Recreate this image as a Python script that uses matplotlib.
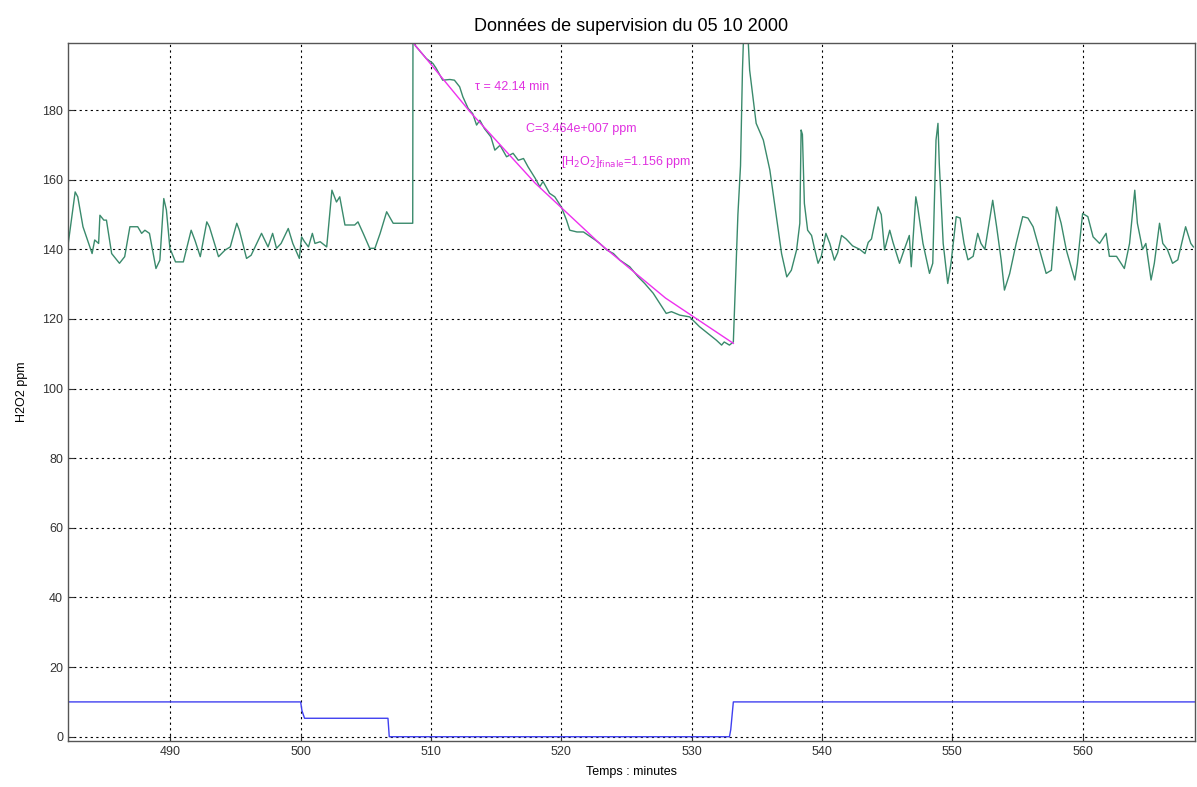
import matplotlib
matplotlib.use('Agg')
import matplotlib.pyplot as plt

plt.rcParams['font.family'] = ['Liberation Sans', 'DejaVu Sans']

t_h2o2 = [482.17, 482.7, 482.9, 483.3, 484.0, 484.2, 484.5, 484.6, 484.9, 485.1,
          485.5, 486.1, 486.5, 486.9, 487.5, 487.8, 488.05, 488.4, 488.9, 489.2,
          489.5, 489.7, 489.97, 490.4, 491.0, 491.6, 491.9, 492.3, 492.8, 493.0,
          493.7, 494.2, 494.6, 495.1, 495.3, 495.85, 496.2, 497.0, 497.5, 497.85,
          498.15, 498.5, 499.05, 499.4, 499.9, 500.07, 500.3, 500.6, 500.9, 501.1,
          501.5, 502.0, 502.4, 502.75, 503.0, 503.4, 504.15, 504.4, 504.8, 505.3,
          505.7, 506.1, 506.6, 507.1, 508.6, 508.62, 508.7,
          508.8, 509.1, 509.65, 510.15, 510.4, 510.9, 511.45, 511.8, 512.2, 512.45,
          512.85, 513.2, 513.5, 513.75, 514.1, 514.6, 514.9, 515.3, 515.8, 516.3,
          516.7, 517.1, 517.45, 518.0, 518.35, 518.6, 519.1, 519.5, 520.0, 520.4,
          520.65, 521.2, 521.7, 522.05, 522.6, 522.95, 523.5, 524.0, 524.5, 525.25,
          525.9, 526.4, 527.05, 527.55, 528.05, 528.45, 529.1, 529.85, 530.6, 531.4,
          531.9, 532.3, 532.5, 532.9, 533.2,
          533.55, 533.75, 533.9, 534.0, 534.3, 534.45, 534.95, 535.5, 536.0, 536.5,
          536.9, 537.3, 537.65, 538.05, 538.3, 538.4, 538.5, 538.65, 538.9, 539.2,
          539.4, 539.7, 539.95, 540.3, 540.6, 540.95, 541.2, 541.5, 541.85, 542.35,
          542.9, 543.3, 543.55, 543.8, 544.3, 544.55, 544.8, 545.2, 545.45, 545.95,
          546.3, 546.7, 546.85, 547.2, 547.35, 547.75, 548.25, 548.5, 548.75, 548.9,
          549.0, 549.3, 549.65, 549.9, 550.3, 550.6, 550.9, 551.2, 551.6, 551.95,
          552.2, 552.5, 553.1, 553.4, 553.75, 554.0, 554.4, 554.9, 555.4, 555.8,
          556.2, 556.7, 557.2, 557.6, 558.0, 558.35, 558.75, 559.4, 559.6, 560.0,
          560.4, 560.8, 561.3, 561.8, 562.05, 562.6, 563.2, 563.6, 564.0, 564.2,
          564.6, 564.85, 565.25, 565.5, 565.9, 566.15, 566.5, 566.9, 567.3, 567.9,
          568.3, 568.5]
c_h2o2 = [141.7, 156.5, 155.1, 146.5, 138.8, 142.7, 141.7, 149.8, 148.4, 148.4,
          138.8, 136.0, 137.9, 146.5, 146.5, 144.6, 145.5, 144.6, 134.5, 136.9,
          154.6, 151.3, 140.3, 136.4, 136.4, 145.5, 142.5, 137.9, 147.9, 146.5,
          137.9, 139.8, 140.7, 147.5, 145.5, 137.4, 138.3, 144.6, 140.7, 144.6,
          140.3, 141.7, 146.0, 141.7, 137.4, 143.6, 142.2, 140.7, 144.6, 141.7,
          142.2, 140.7, 157.0, 153.6, 155.1, 147.0, 147.0, 147.9, 144.6, 140.3,
          140.3, 144.6, 150.8, 147.5, 147.5, 203.0, 203.0,
          198.5, 197.2, 194.8, 193.4, 192.0, 188.6, 188.8, 188.6, 186.7, 183.8,
          180.5, 179.0, 175.7, 177.1, 174.7, 172.3, 168.5, 169.9, 166.6, 167.6,
          165.6, 166.1, 163.7, 160.4, 158.0, 159.5, 156.1, 155.1, 152.2, 148.4,
          145.5, 145.0, 145.0, 144.1, 142.7, 141.7, 139.8, 138.8, 136.9, 135.0,
          132.1, 130.2, 127.4, 124.5, 121.6, 122.1, 121.1, 120.6, 117.8, 115.4,
          113.9, 112.5, 113.4, 112.5, 113.4,
          150.0, 164.0, 191.5, 203.0, 203.0, 191.5, 176.2, 171.4, 162.8, 149.4,
          138.8, 132.1, 134.0, 139.8, 147.5, 174.3, 173.0, 153.2, 145.5, 144.0,
          140.7, 136.0, 138.0, 144.6, 141.7, 136.9, 139.0, 144.0, 143.0, 141.0,
          140.0, 138.8, 142.0, 143.0, 152.2, 150.0, 139.8, 145.5, 142.0, 136.0,
          139.8, 144.0, 135.0, 155.1, 152.0, 141.7, 133.1, 136.0, 171.4, 176.2,
          164.7, 141.7, 130.2, 136.0, 149.4, 149.0, 141.7, 137.0, 138.0, 144.6,
          141.7, 140.0, 154.1, 146.5, 136.9, 128.3, 133.0, 141.7, 149.4, 149.0,
          146.5, 139.8, 133.1, 134.0, 152.2, 147.5, 139.8, 131.2, 136.0, 150.3,
          149.4, 143.6, 141.7, 144.6, 138.0, 138.0, 134.5, 141.7, 157.0, 147.5,
          140.0, 141.7, 131.2, 136.0, 147.5, 141.7, 140.0, 136.0, 137.0, 146.5,
          141.7, 140.7]

# set point (blue step line)
t_set = [482.15, 500.0, 500.1, 500.3, 506.7, 506.8, 532.9, 533.0, 533.2, 568.6]
c_set = [10.0, 10.0, 7.5, 5.3, 5.3, 0.0, 0.0, 2.0, 10.0, 10.0]

# exponential fit of the decay
t_fit = [508.6, 513.0, 518.0, 523.0, 528.0, 533.2]
c_fit = [199.5, 179.5, 159.0, 141.5, 126.0, 113.0]

fit_labels = ['τ = 42.14 min',
              'C=3.464e+007 ppm',
              r'[H$_2$O$_2$]$_{\rm finale}$=1.156 ppm']
label_x = [513.4, 517.3, 520.0]
label_y = [186.7, 174.7, 165.2]

fig = plt.figure(figsize=(11.97, 7.87), dpi=100)
ax = fig.add_axes([0.0568, 0.0588, 0.9413, 0.8862])

ax.plot(t_set, c_set, color='#4040f0', linewidth=1.0)
ax.plot(t_h2o2, c_h2o2, color='#3a8a6c', linewidth=1.0)
ax.plot(t_fit, c_fit, color='#ee30ee', linewidth=1.0)

for s, x, y in zip(fit_labels, label_x, label_y):
    ax.text(x, y, s, color='#e030e0', fontsize=9, va='center', ha='left')

ax.set_xlim(482.15, 568.6)
ax.set_ylim(-1.15, 199.2)
ax.set_xticks(range(490, 561, 10))
ax.set_yticks(range(0, 181, 20))
ax.grid(True, color='black', linestyle=(0, (2, 3)), linewidth=0.8)
ax.tick_params(direction='in', length=4, labelsize=9, colors='#333333')
for sp in ax.spines.values():
    sp.set_color('#555555')
    sp.set_linewidth(1.0)

ax.set_title('Données de supervision du 05 10 2000', fontsize=13, pad=9)
ax.set_xlabel('Temps : minutes', fontsize=9, labelpad=6)
ax.set_ylabel('H2O2 ppm', fontsize=9, labelpad=10)

fig.savefig('out.png', dpi=100)
